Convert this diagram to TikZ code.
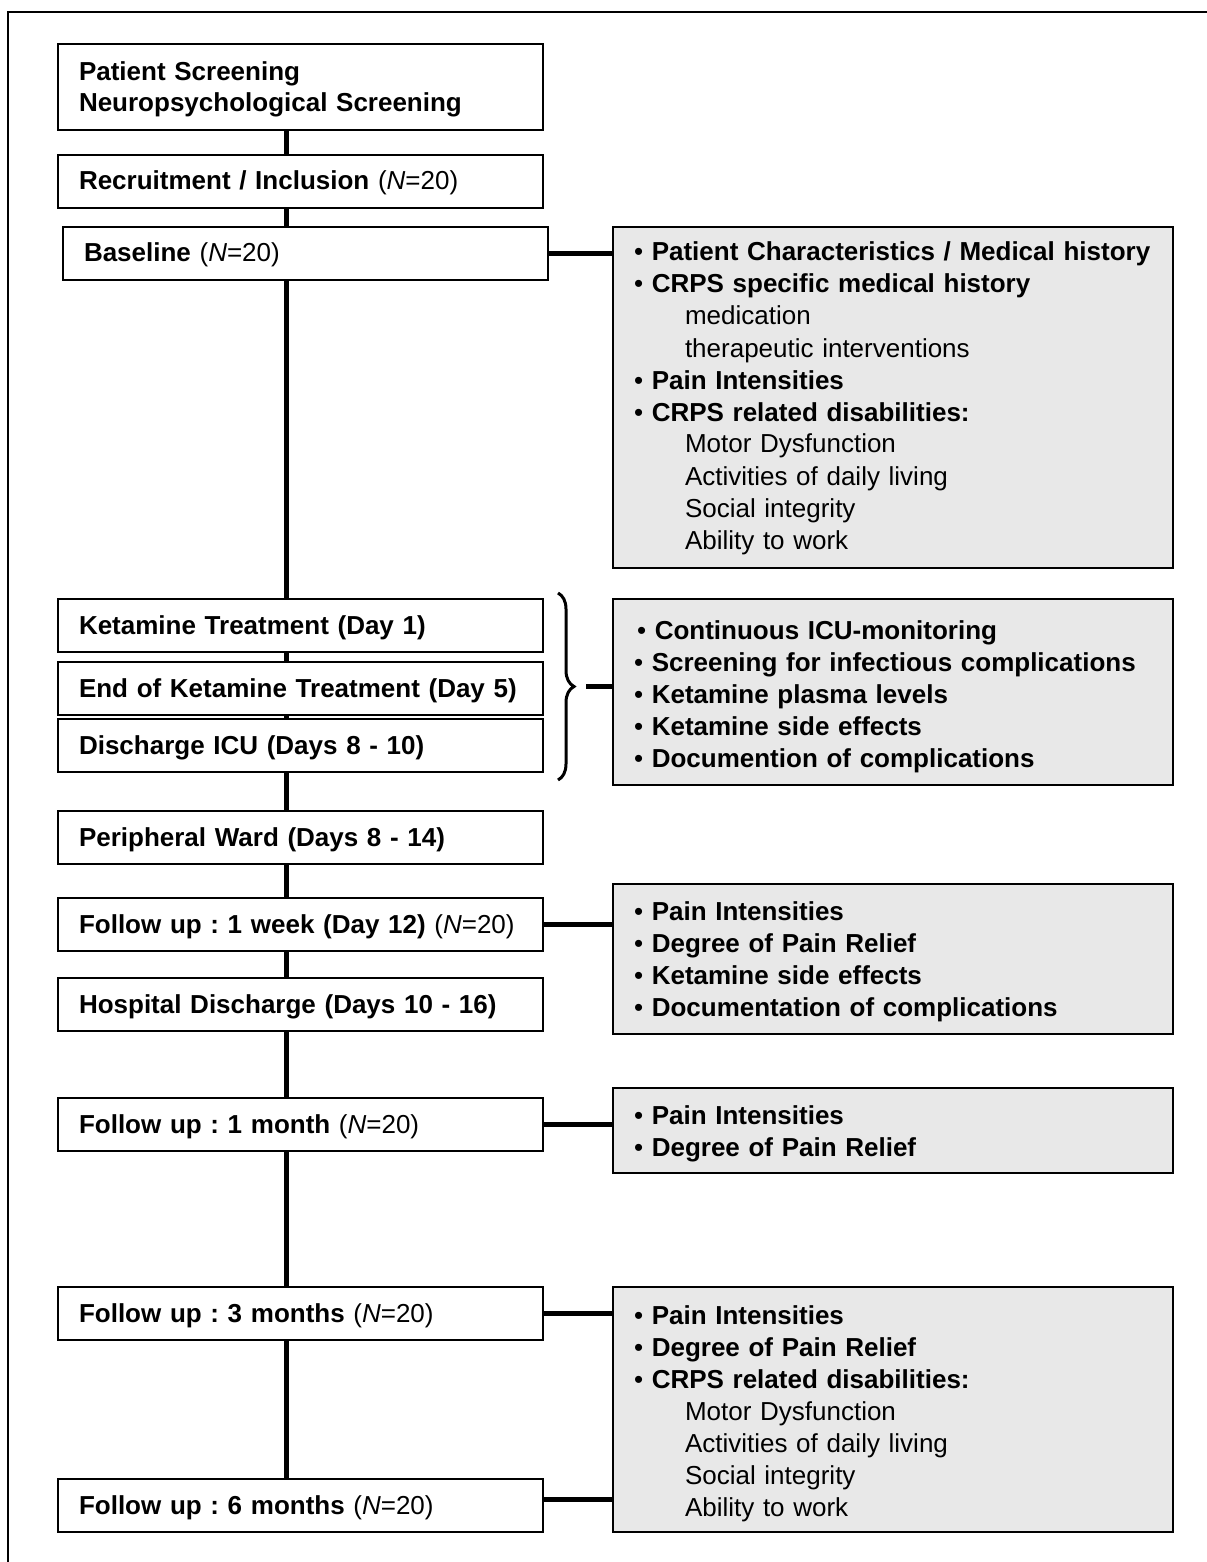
\documentclass[tikz,border=0pt]{standalone}
\usepackage{fontspec}
\setmainfont{Liberation Sans}
\usetikzlibrary{decorations.pathreplacing}
\definecolor{boxgray}{RGB}{232,232,232}
\newcommand{\pitem}[1]{\textbullet\ \textbf{#1}}
\newcommand{\pdetail}[1]{\hspace*{25.5pt}#1}
\newcommand{\nn}{{\mdseries\ (\textit{N}=20)}}
\tikzset{
	stage/.style={draw,line width=1pt,fill=white,anchor=north west,text width=221.5pt,inner xsep=10.5pt,inner ysep=0pt,text height=17.5pt,text depth=9pt,align=left,font=\fontsize{13}{15.5}\selectfont\bfseries},
	detail/.style={draw,line width=1pt,fill=boxgray,anchor=north west,text width=259pt,inner xsep=10.5pt,inner ysep=0pt,align=left,font=\fontsize{13}{16}\selectfont},
	link/.style={line width=2.5pt},
}
\frenchspacing

\begin{document}
\begin{tikzpicture} [x=0.5pt,y=-0.5pt]
			\fill[white] (0,0) rectangle (1206,1562);
			\useasboundingbox (0,0) rectangle (1206,1562);
			\draw[line width=0.8pt] (8,1600) -- (8,12) -- (1240,12);
			
			\coordinate (trk) at (286,0);
			
			\draw[link] (trk |- 0,129) -- (trk |- 0,1478);
			
			\node[stage,text height=18.5pt,text depth=24.5pt] (scr) at (57,43) {Patient Screening\\Neuropsychological Screening};
			\node[stage] (rec) at (57,154) {Recruitment / Inclusion\nn};
			\node[stage] (base) at (62,226) {Baseline\nn};
			\node[stage] (ket1) at (57,598) {Ketamine Treatment (Day 1)};
			\node[stage] (ket5) at (57,661) {End of Ketamine Treatment (Day 5)};
			\node[stage] (dicu) at (57,718) {Discharge ICU (Days 8 - 10)};
			\node[stage] (ward) at (57,810) {Peripheral Ward (Days 8 - 14)};
			\node[stage] (fw1) at (57,897) {Follow up : 1 week (Day 12)\nn};
			\node[stage] (hdis) at (57,977) {Hospital Discharge (Days 10 - 16)};
			\node[stage] (fm1) at (57,1097) {Follow up : 1 month\nn};
			\node[stage] (fm3) at (57,1286) {Follow up : 3 months\nn};
			\node[stage] (fm6) at (57,1478) {Follow up : 6 months\nn};
			
			\node[detail,text height=17pt,text depth=153.5pt] (bdet) at (612,226) {\pitem{Patient Characteristics / Medical history}\\
				\pitem{CRPS specific medical history}\\
				\pdetail{medication}\\
				\pdetail{therapeutic interventions}\\
				\pitem{Pain Intensities}\\
				\pitem{CRPS related disabilities:}\\
				\pdetail{Motor Dysfunction}\\
				\pdetail{Activities of daily living}\\
				\pdetail{Social integrity}\\
				\pdetail{Ability to work}};
			\node[detail,text height=20pt,text depth=73pt] (icudet) at (612,598) {\hspace*{1.5pt}\pitem{Continuous ICU-monitoring}\\
				\pitem{Screening for infectious complications}\\
				\pitem{Ketamine plasma levels}\\
				\pitem{Ketamine side effects}\\
				\pitem{Documention of complications}};
			\node[detail,text height=18pt,text depth=57pt] (w1det) at (612,883) {\pitem{Pain Intensities}\\
				\pitem{Degree of Pain Relief}\\
				\pitem{Ketamine side effects}\\
				\pitem{Documentation of complications}};
			\node[detail,text height=18pt,text depth=24.5pt] (m1det) at (612,1087) {\pitem{Pain Intensities}\\
				\pitem{Degree of Pain Relief}};
			\node[detail,text height=18.5pt,text depth=104pt] (m3det) at (612,1286) {\pitem{Pain Intensities}\\
				\pitem{Degree of Pain Relief}\\
				\pitem{CRPS related disabilities:}\\
				\pdetail{Motor Dysfunction}\\
				\pdetail{Activities of daily living}\\
				\pdetail{Social integrity}\\
				\pdetail{Ability to work}};
			
			\draw[link] (base.east) -- (base.east -| bdet.west);
			\draw[link] (fw1.east) -- (fw1.east -| w1det.west);
			\draw[link] (fm1.east) -- (fm1.east -| m1det.west);
			\draw[link] (fm3.east) -- (fm3.east -| m3det.west);
			\draw[link] ([yshift=3pt]fm6.east) -- ([yshift=3pt]fm6.east -| m3det.west);
			
			\draw[line width=1.5pt,decorate,decoration={brace,amplitude=8pt}] (558,593) -- (558,780);
			\coordinate (brc) at (586,686);
			\draw[link] (brc) -- (brc -| icudet.west);
			\end{tikzpicture}
\end{document}
